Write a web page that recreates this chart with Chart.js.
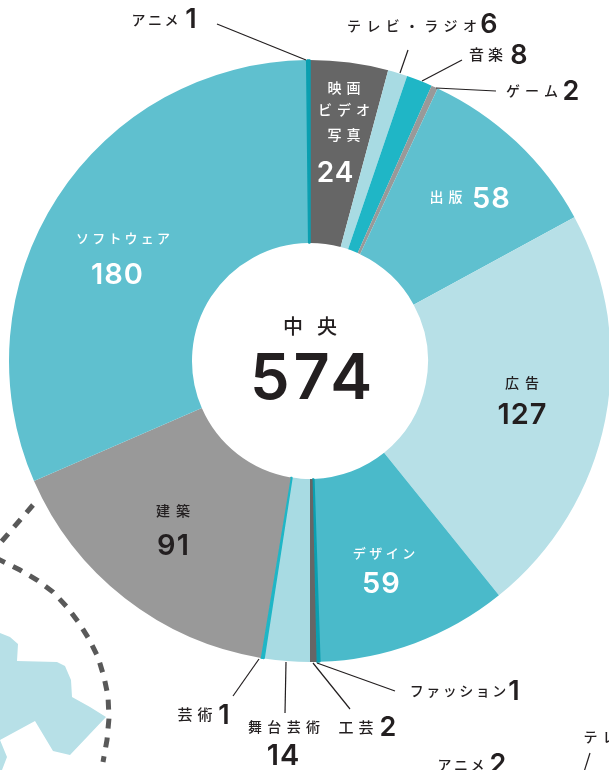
<!DOCTYPE html>
<html lang="ja">
<head>
<meta charset="utf-8">
<title>中央 574</title>
<script src="https://cdn.jsdelivr.net/npm/chart.js@4"></script>
<style>
html, body { margin: 0; padding: 0; background: #fff; overflow: hidden; }
#wrap { width: 609px; height: 770px; overflow: hidden; position: relative; }
canvas { display: block; }
</style>
</head>
<body>
<div id="wrap"><canvas id="chart" width="620" height="770"></canvas></div>
<script>
// 時計回り、映画から開始
const categories = ['映画・ビデオ・写真', 'テレビ・ラジオ', '音楽', 'ゲーム', '出版', '広告', 'デザイン', 'ファッション', '工芸', '舞台芸術', '芸術', '建築', 'ソフトウェア', 'アニメ'];
const values = [24, 6, 8, 2, 58, 127, 59, 1, 2, 14, 1, 91, 180, 1];
const colors = ['#666666', '#a8dbe3', '#1fb6c6', '#999999', '#5fc0cf', '#b7e0e7', '#4abaca', '#0b9fb0', '#666666', '#a8dbe3', '#1fb6c6', '#999999', '#5fc0cf', '#0b9fb0'];

const INK = '#231f20';
const JP = '"Noto Sans CJK JP", "Noto Sans", sans-serif';
const NUM = 'Inter, "Noto Sans", sans-serif';

// [ラベル行, x, y, 文字サイズ, 字間, 色]
const nameLayout = [
    ['アニメ', 155, 20, 14, 2.5, INK],
    ['テレビ・ラジオ', 412, 26, 14, 5.3, INK],
    ['音楽', 486, 54, 15, 4, INK],
    ['ゲーム', 532, 91, 14, 5, INK],
    ['映画', 344, 88, 14, 5, '#fff'],
    ['ビデオ', 344, 110, 14, 5, '#fff'],
    ['写真', 344, 135, 14, 5, '#fff'],
    ['出版', 446, 197, 14, 5, '#fff'],
    ['広告', 522, 383, 14, 6, INK],
    ['デザイン', 384, 553, 13, 3.5, '#fff'],
    ['ファッション', 458, 691, 14, 2.5, INK],
    ['工芸', 356, 727, 15, 5, INK],
    ['舞台芸術', 284, 727, 14, 5.3, INK],
    ['芸術', 195, 714, 15, 5, INK],
    ['建築', 173, 511, 14, 6, INK],
    ['ソフトウェア', 123, 238, 13, 3.2, '#fff'],
    ['中央', 310, 326, 20, 14, INK],
    ['アニメ', 461, 765, 14, 2.5, INK],
    ['テレ', 600, 737, 14, 5, INK]
];

// [数値, x, y, 文字サイズ, 色]
const numLayout = [
    [values[13], 191, 18, 27, INK],
    [values[1], 489, 23, 27, INK],
    [values[2], 519, 54, 27, INK],
    [values[3], 571, 90, 27, INK],
    [values[0], 335, 172, 28, '#fff'],
    [values[4], 491, 197, 29, '#fff'],
    [values[5], 522, 413, 29, INK],
    [values[6], 381, 582, 29, '#fff'],
    [values[7], 514, 690, 27, INK],
    [values[8], 388, 726, 27, INK],
    [values[9], 283, 754, 29, INK],
    [values[10], 224, 714, 27, INK],
    [values[11], 173, 544, 29, INK],
    [values[12], 117, 273, 29, '#fff'],
    [574, 311, 376, 63, INK],
    [2, 498, 763, 27, INK]
];

const leaders = [
    [217, 24, 306, 60],
    [408, 50, 400, 73],
    [462, 60, 422, 81],
    [496, 91, 436, 88],
    [395, 691, 317, 663],
    [350, 709, 313, 663],
    [285, 713, 286, 662],
    [233, 696, 259, 659],
    [590, 753, 584, 772]
];

const mapOutline = [[0, 633], [10, 637], [18, 644], [17, 661], [57, 662], [65, 666], [71, 680], [72, 697], [90, 707], [106, 717], [70, 755], [53, 751], [35, 721], [0, 740], [7, 757], [2, 770], [0, 770]];
const routeA = [[33, 505], [2, 541], [-4, 548]];
const routeB = [[-4, 558], [20, 570], [37, 580], [53, 592], [67, 607], [79, 623], [89, 639], [98, 657], [104, 677], [108, 696], [109, 718], [107, 740], [103, 762]];

const drawPath = (ctx, pts) => {
    ctx.beginPath();
    pts.forEach((p, i) => i ? ctx.lineTo(p[0], p[1]) : ctx.moveTo(p[0], p[1]));
};

const decorations = {
    id: 'decorations',
    beforeDatasetsDraw(chart) {
        const ctx = chart.ctx;
        ctx.save();
        ctx.fillStyle = '#b7e0e7';
        drawPath(ctx, mapOutline);
        ctx.closePath();
        ctx.fill();
        ctx.strokeStyle = '#595959';
        ctx.lineWidth = 5;
        ctx.setLineDash([10, 9]);
        drawPath(ctx, routeA);
        ctx.stroke();
        drawPath(ctx, routeB);
        ctx.stroke();
        ctx.restore();
    }
};

const labels = {
    id: 'labels',
    afterDatasetsDraw(chart) {
        const ctx = chart.ctx;
        ctx.save();
        ctx.strokeStyle = INK;
        ctx.lineWidth = 1.2;
        leaders.forEach(l => {
            ctx.beginPath();
            ctx.moveTo(l[0], l[1]);
            ctx.lineTo(l[2], l[3]);
            ctx.stroke();
        });
        ctx.textAlign = 'center';
        ctx.textBaseline = 'middle';
        nameLayout.forEach(n => {
            ctx.font = `500 ${n[3]}px ${JP}`;
            ctx.letterSpacing = n[4] + 'px';
            ctx.fillStyle = n[5];
            ctx.fillText(n[0], n[1] + n[4] / 2, n[2]);
        });
        ctx.textBaseline = 'alphabetic';
        numLayout.forEach(n => {
            const spacing = n[3] > 40 ? 4 : 1;
            ctx.font = `600 ${n[3]}px ${NUM}`;
            ctx.letterSpacing = spacing + 'px';
            ctx.fillStyle = n[4];
            ctx.fillText(String(n[0]), n[1] + spacing / 2, n[2] + n[3] * 0.727 / 2);
        });
        ctx.restore();
    }
};

new Chart(document.getElementById('chart'), {
    type: 'doughnut',
    data: {
        labels: categories,
        datasets: [{
            data: values,
            backgroundColor: colors,
            borderColor: colors,
            // 値1の細いスライスは少し太らせる
            borderWidth: values.map(v => v === 1 ? 1.5 : 0)
        }]
    },
    options: {
        responsive: false,
        animation: false,
        radius: 301,
        cutout: '39.2%',
        rotation: 0,
        layout: { padding: { bottom: 48 } },
        plugins: {
            legend: { display: false },
            tooltip: { enabled: false }
        }
    },
    plugins: [decorations, labels]
});
</script>
</body>
</html>
